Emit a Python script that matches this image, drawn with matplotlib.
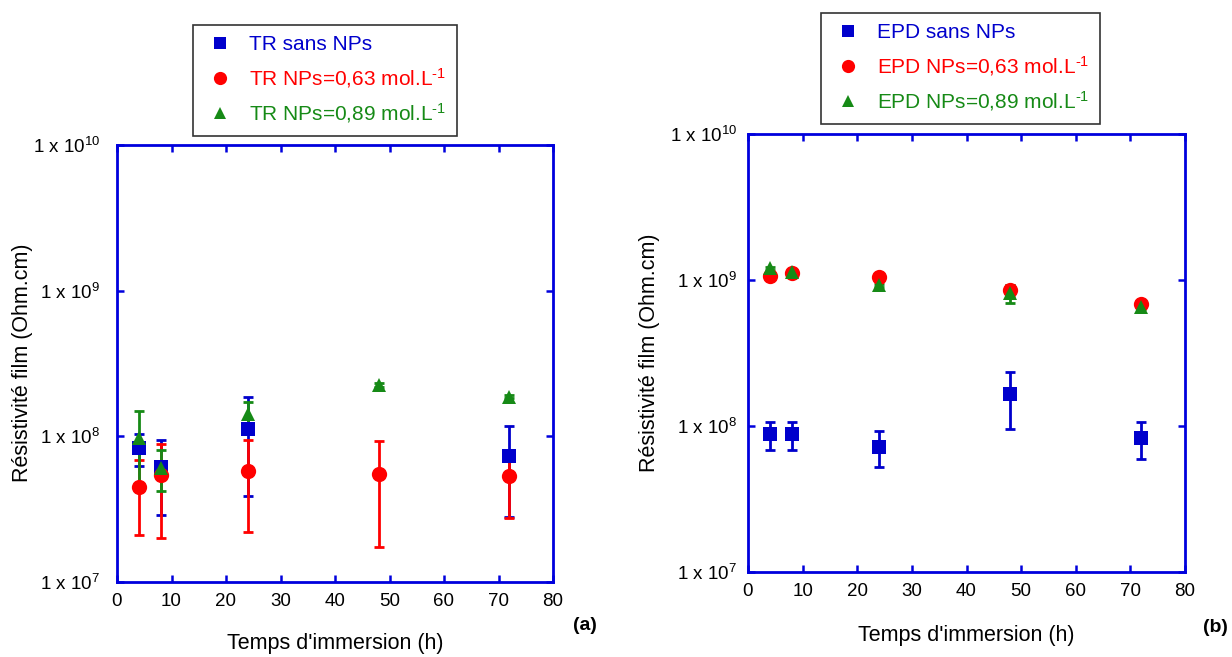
import numpy as np
import matplotlib
matplotlib.use("Agg")
import matplotlib.pyplot as plt
from matplotlib.lines import Line2D
from matplotlib.ticker import NullLocator, FixedLocator, FixedFormatter

plt.rcParams["font.family"] = ["Liberation Sans", "DejaVu Sans"]
plt.rcParams["mathtext.fontset"] = "custom"
plt.rcParams["mathtext.rm"] = "Liberation Sans"
plt.rcParams["mathtext.it"] = "Liberation Sans:italic"
plt.rcParams["mathtext.bf"] = "Liberation Sans:bold"

# ---- data ----
temps = [4, 8, 24, 48, 72]

tr_sans = [8.3e7, 6.2e7, 1.13e8, np.nan, 7.3e7]
tr_sans_err = [2.0e7, 3.3e7, 7.4e7, np.nan, 4.5e7]
tr_063 = [4.5e7, 5.4e7, 5.8e7, 5.55e7, 5.3e7]
tr_063_err = [2.4e7, 3.4e7, 3.6e7, 3.8e7, 2.55e7]
tr_089 = [9.8e7, 6.1e7, 1.42e8, 2.26e8, 1.87e8]
tr_089_err = [5.2e7, 1.9e7, 3.0e7, 8e6, 5e6]

epd_sans = [8.8e7, 8.8e7, 7.2e7, 1.66e8, 8.3e7]
epd_sans_err = [1.9e7, 1.9e7, 2.0e7, 7.0e7, 2.4e7]
epd_063 = [1.07e9, 1.11e9, 1.05e9, 8.5e8, 6.9e8]
epd_063_err = [3e7, 3e7, 3e7, 8e7, 3e7]
epd_089 = [1.2e9, 1.13e9, 9.2e8, 8.1e8, 6.55e8]
epd_089_err = [3e7, 3e7, 2e7, 1.1e8, 2e7]

ytick_vals = [1e7, 1e8, 1e9, 1e10]
ytick_labels = ["1 x 10$^{7}$", "1 x 10$^{8}$", "1 x 10$^{9}$", "1 x 10$^{10}$"]

BLUE = "#0000CC"
RED = "#FF0000"
GREEN = "#168A16"
AXBLUE = "#0000DD"

W, H = 1232, 657
fig = plt.figure(figsize=(W / 100, H / 100), dpi=100)


def fx(px):
    return px / W


def fy(py):
    return 1 - py / H


def draw_panel(rect, series, prefix, legend_pos, ylab_x, ylab_y, xlab_y, tag, tag_pos, ypad):
    ax = fig.add_axes(rect)
    styles = [("s", BLUE, 10.5), ("o", RED, 11), ("^", GREEN, 10.5)]
    for (vals, errs), (mk, col, ms) in zip(series, styles):
        line, caps, bars = ax.errorbar(temps, vals, yerr=errs, fmt=mk, color=col,
                                       ms=ms, ecolor=col, elinewidth=2,
                                       capsize=3.5, mew=0)
        for c in caps:
            c.set_markeredgewidth(2)
    ax.set_yscale("log")
    ax.set_xlim(0, 80)
    ax.set_ylim(1e7, 1e10)
    ax.set_xticks(range(0, 81, 10))
    ax.yaxis.set_major_locator(FixedLocator(ytick_vals))
    ax.yaxis.set_major_formatter(FixedFormatter(ytick_labels))
    ax.yaxis.set_minor_locator(NullLocator())
    for sp in ax.spines.values():
        sp.set_color(AXBLUE)
        sp.set_linewidth(2)
    ax.tick_params(axis="both", which="major", direction="in", length=5,
                   width=1.8, color=AXBLUE, top=True, right=True,
                   labelsize=13.5, labelcolor="black")
    ax.tick_params(axis="x", pad=8)
    ax.tick_params(axis="y", pad=ypad)

    ax.set_xlabel("Temps d'immersion (h)", fontsize=15.5)
    ax.xaxis.set_label_coords(fx((rect[0] + rect[2] / 2) * W), fy(xlab_y),
                              transform=fig.transFigure)
    ax.set_ylabel("Résistivité film (Ohm.cm)", fontsize=15.5)
    ax.yaxis.set_label_coords(fx(ylab_x), fy(ylab_y), transform=fig.transFigure)
    ax.xaxis.label.set_va("center")
    ax.yaxis.label.set_va("center")

    labels = [prefix + " sans NPs",
              prefix + r" NPs=0,63 mol.L$^{\text{-}1}$",
              prefix + r" NPs=0,89 mol.L$^{\text{-}1}$"]
    handles = [Line2D([], [], ls="none", marker=mk, color=col, ms=ms - 1.5,
                      markeredgewidth=0) for mk, col, ms in styles]
    leg = ax.legend(handles, labels, loc="upper left",
                    bbox_to_anchor=(fx(legend_pos[0]), fy(legend_pos[1])),
                    bbox_transform=fig.transFigure, fontsize=15,
                    frameon=True, fancybox=False, edgecolor="#333333",
                    framealpha=1, borderpad=0.5, labelspacing=0.55,
                    handlelength=1.6, handletextpad=0.6, borderaxespad=0)
    leg.get_frame().set_linewidth(1.2)
    for txt, col in zip(leg.get_texts(), [BLUE, RED, GREEN]):
        txt.set_color(col)

    fig.text(fx(tag_pos[0]), fy(tag_pos[1]), tag, fontsize=14,
             fontweight="bold", ha="center", va="center")
    return ax


draw_panel([fx(117), fy(582), fx(436), 437 / H],
           [(tr_sans, tr_sans_err), (tr_063, tr_063_err), (tr_089, tr_089_err)],
           "TR", (193, 25), 23, 363, 644, "(a)", (585, 625), 12)

draw_panel([fx(748), fy(572), fx(437), 438 / H],
           [(epd_sans, epd_sans_err), (epd_063, epd_063_err), (epd_089, epd_089_err)],
           "EPD", (821, 13), 650, 353, 636, "(b)", (1215, 627), 8)

fig.savefig("out.png", dpi=100)
